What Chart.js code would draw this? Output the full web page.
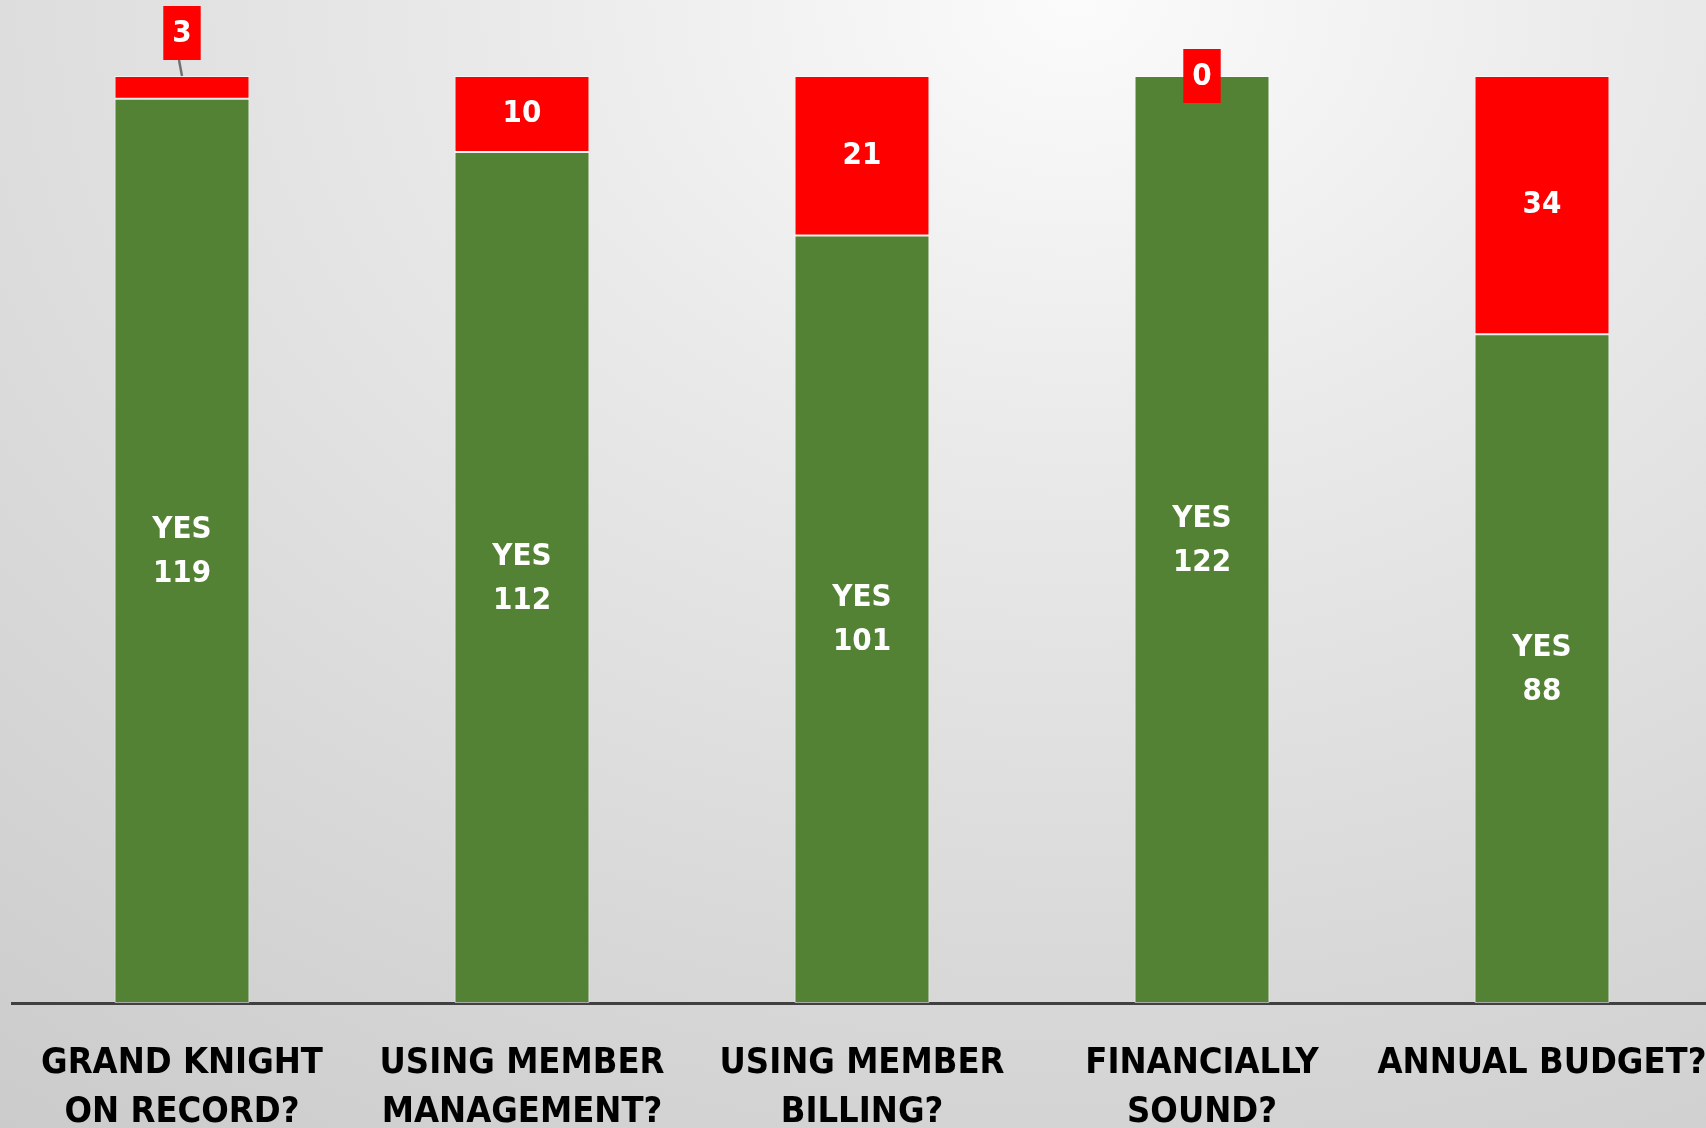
<!DOCTYPE html>
<html>
<head>
<meta charset="utf-8">
<script src="https://cdn.jsdelivr.net/npm/chart.js@4"></script>
<style>
  html, body {
    margin: 0;
    padding: 0;
    width: 1706px;
    height: 1128px;
    overflow: hidden;
    background: radial-gradient(ellipse 110% 130% at 63% 0%, #fbfbfb 0%, #eaeaea 30%, #d9d9d9 65%, #c9c9c9 100%);
  }
  #wrap { width: 1712px; height: 1128px; }
</style>
</head>
<body>
<div id="wrap"><canvas id="chart" width="1712" height="1128"></canvas></div>
<script>
// survey answers per question
const categories = [
  ['GRAND KNIGHT', 'ON RECORD?'],
  ['USING MEMBER', 'MANAGEMENT?'],
  ['USING MEMBER', 'BILLING?'],
  ['FINANCIALLY', 'SOUND?'],
  ['ANNUAL BUDGET?']
];
const yesValues = [119, 112, 101, 122, 88];
const noValues = [3, 10, 21, 0, 34];
const yAxisMax = 122;

const FONT = '"Liberation Sans Narrow", "DejaVu Sans Condensed", "Liberation Sans", sans-serif';
const GREEN = '#548235';
const RED = '#ff0000';

// draws the YES / NO labels on the segments
const segmentLabels = {
  id: 'segmentLabels',
  afterDatasetsDraw(chart) {
    const ctx = chart.ctx;
    ctx.save();
    ctx.textAlign = 'center';
    ctx.textBaseline = 'middle';
    ctx.font = 'bold 31px ' + FONT;
    ctx.fillStyle = '#ffffff';

    chart.getDatasetMeta(0).data.forEach((bar, i) => {
      const mid = (bar.y + bar.base) / 2;
      ctx.fillText('YES', bar.x, mid - 21);
      ctx.fillText(String(yesValues[i]), bar.x, mid + 23);
    });

    chart.getDatasetMeta(1).data.forEach((bar, i) => {
      const v = noValues[i];
      const h = Math.abs(bar.base - bar.y);
      const txt = String(v);
      const w = ctx.measureText(txt).width + 18;
      if (h >= 54) {
        ctx.fillStyle = '#ffffff';
        ctx.fillText(txt, bar.x, (bar.y + bar.base) / 2);
        return;
      }
      let cy = bar.y;
      if (v > 0) {
        // moved up with a leader line
        cy = bar.y - 43;
        ctx.strokeStyle = '#6f6f6f';
        ctx.lineWidth = 2.5;
        ctx.beginPath();
        ctx.moveTo(bar.x - 3, cy + 27);
        ctx.lineTo(bar.x, bar.y);
        ctx.stroke();
      }
      ctx.fillStyle = RED;
      ctx.fillRect(bar.x - w / 2, cy - 27, w, 54);
      ctx.fillStyle = '#ffffff';
      ctx.fillText(txt, bar.x, cy + 1);
    });
    ctx.restore();
  }
};

new Chart(document.getElementById('chart'), {
  type: 'bar',
  data: {
    labels: categories,
    datasets: [
      {
        label: 'YES',
        data: yesValues,
        backgroundColor: GREEN,
        borderColor: 'rgba(255,255,255,0.55)',
        borderWidth: 1,
        borderSkipped: false,
        barPercentage: 0.397,
        categoryPercentage: 1
      },
      {
        label: 'NO',
        data: noValues,
        backgroundColor: RED,
        borderColor: 'rgba(255,255,255,0.55)',
        borderWidth: 1,
        borderSkipped: false,
        barPercentage: 0.397,
        categoryPercentage: 1
      }
    ]
  },
  options: {
    responsive: false,
    animation: false,
    layout: { padding: { left: 12, top: 76, right: 0, bottom: 0 } },
    plugins: {
      legend: { display: false },
      tooltip: { enabled: false }
    },
    scales: {
      x: {
        stacked: true,
        grid: { display: false, drawTicks: true, tickLength: 36 },
        border: { display: true, color: '#404040', width: 3 },
        ticks: {
          color: '#000000',
          padding: 0,
          maxRotation: 0,
          autoSkip: false,
          font: { family: FONT, size: 36, weight: 'bold', lineHeight: 1.36 }
        },
        afterFit(scale) {
          scale.height = 125;
          scale.paddingLeft = 0;
          scale.paddingRight = 0;
        }
      },
      y: {
        stacked: true,
        display: false,
        min: 0,
        max: yAxisMax
      }
    }
  },
  plugins: [segmentLabels]
});
</script>
</body>
</html>
